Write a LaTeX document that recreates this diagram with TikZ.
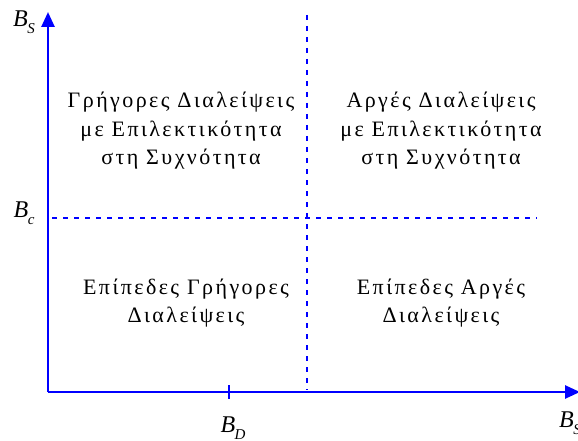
\documentclass[tikz,border=0pt]{standalone}
\usepackage{fontspec}
\setmainfont{Liberation Serif}
\newfontfamily\regfont[LetterSpace=11]{Liberation Serif}
\usetikzlibrary{arrows.meta}
\definecolor{axblue}{RGB}{0,0,255}
\newcommand{\sublab}[2]{\textit{#1}\kern-0.5pt\raisebox{-0.3em}{\fontsize{15}{15}\selectfont\textit{#2}}}
\begin{document}
\begin{tikzpicture}[x=1pt,y=-1pt,
  axis/.style={axblue,line width=2.6pt,-{Triangle[length=15pt,width=13pt]}},
  dotline/.style={axblue,line width=2.2pt,dash pattern=on 5pt off 6pt},
  region/.style={align=center,font=\regfont\fontsize{22}{28.5}\selectfont},
  axlabel/.style={font=\fontsize{24}{26}\selectfont,inner sep=0pt}]
\useasboundingbox (0,0) rectangle (578,441);
\coordinate (O) at (48,392);
\coordinate (ytop) at (48,12);
\coordinate (xend) at (580,392);
\draw[axis] (O) -- (ytop);
\draw[axis] (O) -- (xend);
\coordinate (v1) at (307,15);
\coordinate (v2) at (307,390);
\draw[dotline] (v1) -- (v2);
\coordinate (h1) at (52,218);
\coordinate (h2) at (537,218);
\draw[dotline] (h1) -- (h2);
\coordinate (t1) at (229,385);
\coordinate (t2) at (229,399);
\draw[axblue,line width=2.6pt] (t1) -- (t2);
\node[axlabel] (bs1) at (24,22) {\sublab{B}{S}};
\node[axlabel] (bc) at (24,213) {\sublab{B}{c}};
\node[axlabel] (bd) at (233,428) {\sublab{B}{D}};
\node[axlabel] (bs2) at (570,423) {\sublab{B}{S}};
\node[region] (q1) at (181,131) {Γρήγορες Διαλείψεις\\με Επιλεκτικότητα\\στη Συχνότητα};
\node[region] (q2) at (441,131) {Αργές Διαλείψεις\\με Επιλεκτικότητα\\στη Συχνότητα};
\node[region] (q3) at (186,303) {Επίπεδες Γρήγορες\\Διαλείψεις};
\node[region] (q4) at (441,303) {Επίπεδες Αργές\\Διαλείψεις};
\end{tikzpicture}
\end{document}
